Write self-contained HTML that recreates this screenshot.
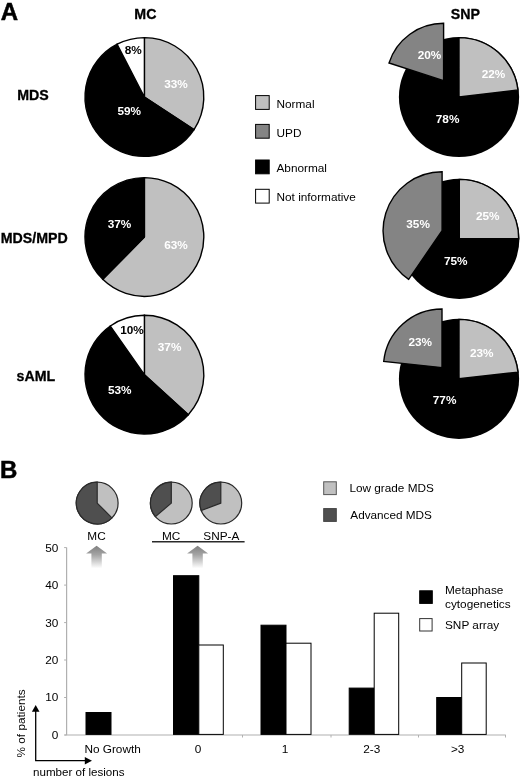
<!DOCTYPE html>
<html><head><meta charset="utf-8"><title>Figure</title>
<style>html,body{margin:0;padding:0;background:#fff}svg{display:block;font-family:"Liberation Sans",Arial,Helvetica,sans-serif}</style>
</head><body>
<svg width="520" height="777" viewBox="0 0 520 777">
<rect width="520" height="777" fill="#fff"/>
<text x="0.8" y="19.8" font-size="24" font-weight="bold" fill="#000" text-anchor="start" stroke="#000" stroke-width="0.5">A</text>
<text x="145.4" y="18.7" font-size="14.2" font-weight="bold" fill="#000" text-anchor="middle" stroke="#000" stroke-width="0.3">MC</text>
<text x="465.4" y="18.7" font-size="14.2" font-weight="bold" fill="#000" text-anchor="middle" stroke="#000" stroke-width="0.3">SNP</text>
<text x="17.2" y="99.7" font-size="14.2" font-weight="bold" fill="#000" text-anchor="start" stroke="#000" stroke-width="0.3">MDS</text>
<text x="0.8" y="243.2" font-size="14.2" font-weight="bold" fill="#000" text-anchor="start" stroke="#000" stroke-width="0.3">MDS/MPD</text>
<text x="16.5" y="380.6" font-size="14.2" font-weight="bold" fill="#000" text-anchor="start" stroke="#000" stroke-width="0.3">sAML</text>
<path d="M144.40 97.00L144.40 37.60A59.4 59.4 0 0 1 194.05 129.61Z" fill="#c0c0c0" stroke="#000" stroke-width="1.4" stroke-linejoin="miter"/>
<path d="M144.40 97.00L194.05 129.61A59.4 59.4 0 1 1 117.16 44.22Z" fill="#000" stroke="#000" stroke-width="1.4" stroke-linejoin="miter"/>
<path d="M144.40 97.00L117.16 44.22A59.4 59.4 0 0 1 144.40 37.60Z" fill="#fff" stroke="#000" stroke-width="1.4" stroke-linejoin="miter"/>
<path d="M144.40 237.00L144.40 177.60A59.4 59.4 0 1 1 102.77 279.37Z" fill="#c0c0c0" stroke="#000" stroke-width="1.4" stroke-linejoin="miter"/>
<path d="M144.40 237.00L102.77 279.37A59.4 59.4 0 0 1 144.40 177.60Z" fill="#000" stroke="#000" stroke-width="1.4" stroke-linejoin="miter"/>
<path d="M144.40 374.70L144.40 315.30A59.4 59.4 0 0 1 188.33 414.68Z" fill="#c0c0c0" stroke="#000" stroke-width="1.4" stroke-linejoin="miter"/>
<path d="M144.40 374.70L188.33 414.68A59.4 59.4 0 1 1 110.33 326.04Z" fill="#000" stroke="#000" stroke-width="1.4" stroke-linejoin="miter"/>
<path d="M144.40 374.70L110.33 326.04A59.4 59.4 0 0 1 144.40 315.30Z" fill="#fff" stroke="#000" stroke-width="1.4" stroke-linejoin="miter"/>
<text x="176" y="87.8" font-size="11.8" font-weight="bold" fill="#fff" text-anchor="middle" >33%</text>
<text x="129.3" y="114.6" font-size="11.8" font-weight="bold" fill="#fff" text-anchor="middle" >59%</text>
<text x="133.2" y="53.7" font-size="11.8" font-weight="bold" fill="#000" text-anchor="middle" >8%</text>
<text x="176" y="248.8" font-size="11.8" font-weight="bold" fill="#fff" text-anchor="middle" >63%</text>
<text x="119.5" y="227.8" font-size="11.8" font-weight="bold" fill="#fff" text-anchor="middle" >37%</text>
<text x="169.6" y="351.3" font-size="11.8" font-weight="bold" fill="#fff" text-anchor="middle" >37%</text>
<text x="119.7" y="393.6" font-size="11.8" font-weight="bold" fill="#fff" text-anchor="middle" >53%</text>
<text x="132" y="333.7" font-size="11.8" font-weight="bold" fill="#000" text-anchor="middle" >10%</text>
<circle cx="459" cy="97" r="60.1" fill="#000"/>
<path d="M459.00 97.00L459.00 37.60A59.4 59.4 0 0 1 517.98 89.97Z" fill="#c0c0c0" stroke="#000" stroke-width="1.4" stroke-linejoin="miter"/>
<path d="M443.60 80.70L389.01 62.96A57.4 57.4 0 0 1 443.60 23.30Z" fill="#848484" stroke="#000" stroke-width="1.4" stroke-linejoin="miter"/>
<text x="429.5" y="59.4" font-size="11.8" font-weight="bold" fill="#fff" text-anchor="middle" >20%</text>
<text x="493.5" y="78.3" font-size="11.8" font-weight="bold" fill="#fff" text-anchor="middle" >22%</text>
<text x="447.6" y="123.2" font-size="11.8" font-weight="bold" fill="#fff" text-anchor="middle" >78%</text>
<circle cx="459.3" cy="238.8" r="60.1" fill="#000"/>
<path d="M459.30 238.80L459.30 179.40A59.4 59.4 0 0 1 518.70 238.80Z" fill="#c0c0c0" stroke="#000" stroke-width="1.4" stroke-linejoin="miter"/>
<path d="M442.10 230.70L408.68 279.32A59 59 0 0 1 442.10 171.70Z" fill="#848484" stroke="#000" stroke-width="1.4" stroke-linejoin="miter"/>
<text x="418.1" y="228.3" font-size="11.8" font-weight="bold" fill="#fff" text-anchor="middle" >35%</text>
<text x="487.8" y="220" font-size="11.8" font-weight="bold" fill="#fff" text-anchor="middle" >25%</text>
<text x="455.7" y="264.6" font-size="11.8" font-weight="bold" fill="#fff" text-anchor="middle" >75%</text>
<circle cx="459" cy="378.8" r="60.1" fill="#000"/>
<path d="M459.00 378.80L459.00 319.40A59.4 59.4 0 0 1 518.02 372.08Z" fill="#c0c0c0" stroke="#000" stroke-width="1.4" stroke-linejoin="miter"/>
<path d="M442.00 367.60L383.72 361.47A58.6 58.6 0 0 1 442.00 309.00Z" fill="#848484" stroke="#000" stroke-width="1.4" stroke-linejoin="miter"/>
<text x="420.2" y="345.8" font-size="11.8" font-weight="bold" fill="#fff" text-anchor="middle" >23%</text>
<text x="481.7" y="357.2" font-size="11.8" font-weight="bold" fill="#fff" text-anchor="middle" >23%</text>
<text x="444.6" y="404" font-size="11.8" font-weight="bold" fill="#fff" text-anchor="middle" >77%</text>
<rect x="255.6" y="95.6" width="13.6" height="13.8" fill="#c0c0c0" stroke="#000" stroke-width="1"/>
<text x="276.5" y="108.1" font-size="11.8" font-weight="normal" fill="#000" text-anchor="start" >Normal</text>
<rect x="255.6" y="124.4" width="13.6" height="13.8" fill="#848484" stroke="#000" stroke-width="1"/>
<text x="276.5" y="136.5" font-size="11.8" font-weight="normal" fill="#000" text-anchor="start" >UPD</text>
<rect x="255.6" y="160" width="13.6" height="13.8" fill="#000" stroke="#000" stroke-width="1"/>
<text x="276.5" y="172.1" font-size="11.8" font-weight="normal" fill="#000" text-anchor="start" >Abnormal</text>
<rect x="255.6" y="189.3" width="13.6" height="13.8" fill="#fff" stroke="#000" stroke-width="1"/>
<text x="276.5" y="201.4" font-size="11.8" font-weight="normal" fill="#000" text-anchor="start" >Not informative</text>
<text x="0" y="477.7" font-size="24" font-weight="bold" fill="#000" text-anchor="start" stroke="#000" stroke-width="0.5">B</text>
<circle cx="97.2" cy="503.1" r="20.9" fill="#c0c0c0" stroke="#2a2a2a" stroke-width="1.2"/>
<path d="M97.20 503.10L111.98 517.88A20.9 20.9 0 1 1 97.20 482.20Z" fill="#4f4f4f" stroke="#2a2a2a" stroke-width="1.2" stroke-linejoin="miter"/>
<circle cx="171.3" cy="503.1" r="20.9" fill="#c0c0c0" stroke="#2a2a2a" stroke-width="1.2"/>
<path d="M171.30 503.10L155.36 516.62A20.9 20.9 0 0 1 171.30 482.20Z" fill="#4f4f4f" stroke="#2a2a2a" stroke-width="1.2" stroke-linejoin="miter"/>
<circle cx="220.8" cy="503.1" r="20.9" fill="#c0c0c0" stroke="#2a2a2a" stroke-width="1.2"/>
<path d="M220.80 503.10L201.27 510.55A20.9 20.9 0 0 1 220.80 482.20Z" fill="#4f4f4f" stroke="#2a2a2a" stroke-width="1.2" stroke-linejoin="miter"/>
<text x="96.5" y="539.9" font-size="11.8" font-weight="normal" fill="#000" text-anchor="middle" >MC</text>
<text x="171.2" y="539.9" font-size="11.8" font-weight="normal" fill="#000" text-anchor="middle" >MC</text>
<text x="221.4" y="539.9" font-size="11.8" font-weight="normal" fill="#000" text-anchor="middle" >SNP-A</text>
<line x1="152" y1="541.8" x2="244.6" y2="541.8" stroke="#2a2a2a" stroke-width="1.4"/>
<defs><linearGradient id="ag" x1="0" y1="0" x2="0" y2="1"><stop offset="0" stop-color="#808080"/><stop offset="0.4" stop-color="#a4a4a4"/><stop offset="1" stop-color="#fff"/></linearGradient></defs>
<path d="M96.6 545.8L107.1 553.5999999999999H101.8V568.3H91.39999999999999V553.5999999999999H86.1Z" fill="url(#ag)"/>
<path d="M197.6 545.8L208.1 553.5999999999999H202.79999999999998V568.3H192.4V553.5999999999999H187.1Z" fill="url(#ag)"/>
<rect x="323.7" y="481.8" width="12.6" height="12.8" fill="#c0c0c0" stroke="#555" stroke-width="1"/>
<text x="349.5" y="492.4" font-size="11.75" font-weight="normal" fill="#000" text-anchor="start" >Low grade MDS</text>
<rect x="323.7" y="508.6" width="12.6" height="12.8" fill="#4f4f4f" stroke="#444" stroke-width="1"/>
<text x="350.3" y="519.2" font-size="11.75" font-weight="normal" fill="#000" text-anchor="start" >Advanced MDS</text>
<rect x="419.7" y="590.8" width="12.6" height="12.6" fill="#000" stroke="#000" stroke-width="1"/>
<text x="445" y="594" font-size="11.8" font-weight="normal" fill="#000" text-anchor="start" >Metaphase</text>
<text x="445" y="608" font-size="11.8" font-weight="normal" fill="#000" text-anchor="start" >cytogenetics</text>
<rect x="419.7" y="618.6" width="12.4" height="12.4" fill="#fff" stroke="#333" stroke-width="1"/>
<text x="445" y="629" font-size="11.8" font-weight="normal" fill="#000" text-anchor="start" >SNP array</text>
<line x1="66.6" y1="547.6" x2="66.6" y2="735" stroke="#b0b0b0" stroke-width="1.2"/>
<line x1="64.6" y1="735" x2="505.8" y2="735" stroke="#b0b0b0" stroke-width="1.2"/>
<line x1="64.1" y1="735.0" x2="66.6" y2="735.0" stroke="#b0b0b0" stroke-width="1"/>
<text x="58.3" y="738.9" font-size="11.8" font-weight="normal" fill="#000" text-anchor="end" >0</text>
<line x1="64.1" y1="697.5" x2="66.6" y2="697.5" stroke="#b0b0b0" stroke-width="1"/>
<text x="58.3" y="701.4" font-size="11.8" font-weight="normal" fill="#000" text-anchor="end" >10</text>
<line x1="64.1" y1="660.0" x2="66.6" y2="660.0" stroke="#b0b0b0" stroke-width="1"/>
<text x="58.3" y="663.9" font-size="11.8" font-weight="normal" fill="#000" text-anchor="end" >20</text>
<line x1="64.1" y1="622.6" x2="66.6" y2="622.6" stroke="#b0b0b0" stroke-width="1"/>
<text x="58.3" y="626.5" font-size="11.8" font-weight="normal" fill="#000" text-anchor="end" >30</text>
<line x1="64.1" y1="585.1" x2="66.6" y2="585.1" stroke="#b0b0b0" stroke-width="1"/>
<text x="58.3" y="589.0" font-size="11.8" font-weight="normal" fill="#000" text-anchor="end" >40</text>
<line x1="64.1" y1="547.6" x2="66.6" y2="547.6" stroke="#b0b0b0" stroke-width="1"/>
<text x="58.3" y="551.5" font-size="11.8" font-weight="normal" fill="#000" text-anchor="end" >50</text>
<line x1="242.5" y1="735" x2="242.5" y2="737.5" stroke="#b0b0b0" stroke-width="1"/>
<line x1="331" y1="735" x2="331" y2="737.5" stroke="#b0b0b0" stroke-width="1"/>
<line x1="418.5" y1="735" x2="418.5" y2="737.5" stroke="#b0b0b0" stroke-width="1"/>
<line x1="505.5" y1="735" x2="505.5" y2="737.5" stroke="#b0b0b0" stroke-width="1"/>
<rect x="86" y="712.5" width="25" height="21.9" fill="#000" stroke="#000" stroke-width="1"/>
<rect x="173.5" y="575.7" width="25.3" height="158.7" fill="#000" stroke="#000" stroke-width="1"/>
<rect x="198.8" y="645.0" width="24.5" height="89.4" fill="#fff" stroke="#000" stroke-width="1"/>
<rect x="261" y="625.2" width="25" height="109.2" fill="#000" stroke="#000" stroke-width="1"/>
<rect x="286" y="643.2" width="25" height="91.2" fill="#fff" stroke="#000" stroke-width="1"/>
<rect x="349.2" y="688.1" width="25" height="46.2" fill="#000" stroke="#000" stroke-width="1"/>
<rect x="374.2" y="613.2" width="24.5" height="121.2" fill="#fff" stroke="#000" stroke-width="1"/>
<rect x="436.7" y="697.5" width="25" height="36.9" fill="#000" stroke="#000" stroke-width="1"/>
<rect x="461.7" y="663.0" width="24.5" height="71.4" fill="#fff" stroke="#000" stroke-width="1"/>
<text x="112.6" y="752.7" font-size="11.8" font-weight="normal" fill="#000" text-anchor="middle" >No Growth</text>
<text x="198" y="752.7" font-size="11.8" font-weight="normal" fill="#000" text-anchor="middle" >0</text>
<text x="285" y="752.7" font-size="11.8" font-weight="normal" fill="#000" text-anchor="middle" >1</text>
<text x="371.7" y="752.7" font-size="11.8" font-weight="normal" fill="#000" text-anchor="middle" >2-3</text>
<text x="457.7" y="752.7" font-size="11.8" font-weight="normal" fill="#000" text-anchor="middle" >&gt;3</text>
<text x="33" y="775.6" font-size="11.6" font-weight="normal" fill="#000" text-anchor="start" >number of lesions</text>
<text transform="translate(25.2,757.5) rotate(-90)" font-size="11.8" text-anchor="start">% of patients</text>
<path d="M35.7 760.7V710" stroke="#000" stroke-width="1.3" fill="none"/><path d="M35.7 705l-3.8 6.8h7.6z" fill="#000"/>
<path d="M35.1 760.7H86" stroke="#000" stroke-width="1.3" fill="none"/><path d="M92 760.7l-7.2 -3.7v7.4z" fill="#000"/>
</svg>
</body></html>
